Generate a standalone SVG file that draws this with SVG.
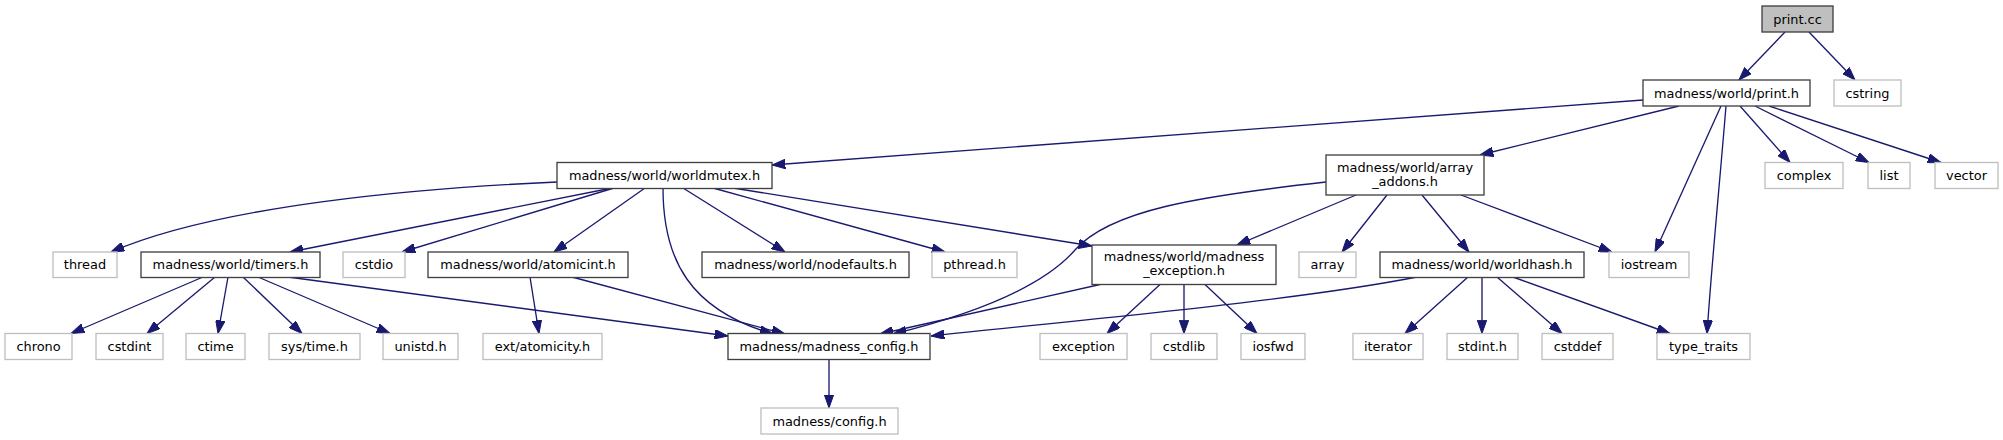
<svg xmlns="http://www.w3.org/2000/svg" width="2003" height="440" viewBox="0 0 2003 440">
<style>
.n rect{fill:#ffffff;stroke:#404040;stroke-width:1.33}
.x rect{fill:#ffffff;stroke:#bfbfbf;stroke-width:1.33}
.r rect{fill:#bfbfbf;stroke:#404040;stroke-width:1.33}
text{font-family:"DejaVu Sans",sans-serif;font-size:12.9px;fill:#000000;text-anchor:middle}
#edges path{fill:none;stroke:#191970;stroke-width:1.33;marker-end:url(#ah)}
</style>
<defs>
<marker id="ah" markerUnits="userSpaceOnUse" viewBox="0 0 13.3 9.4" refX="13.3" refY="4.7" markerWidth="13.3" markerHeight="9.4" orient="auto">
<path d="M0,0 L13.3,4.7 L0,9.4 z" fill="#191970" stroke="#191970" stroke-width="1"/>
</marker>
</defs>
<rect width="2003" height="440" fill="#ffffff"/>
<g id="edges">
<path d="M1785,32 L1739,80"/>
<path d="M1809,32 L1855,80"/>
<path d="M1643,100 L772,165"/>
<path d="M1679,106 L1480,155"/>
<path d="M1721,106 L1655,252"/>
<path d="M1726,106 C1720,180 1712,260 1707,333.5"/>
<path d="M1740,106 L1790,162.5"/>
<path d="M1755,106 L1869,162.5"/>
<path d="M1769,106 L1941,162.5"/>
<path d="M557,182 C420,188 220,205 111,252"/>
<path d="M612,188 L290,252"/>
<path d="M614,188 L402,252"/>
<path d="M645,188 L554,252"/>
<path d="M663,188 C663,260 690,310 773,334"/>
<path d="M683,188 L785,252"/>
<path d="M713,188 L945,252"/>
<path d="M733,188 L1092,246"/>
<path d="M1326,182 C1200,196 1110,210 1075,250 C1047,282 990,310 893,334"/>
<path d="M1356,195 L1237,245"/>
<path d="M1387,195 L1342,252"/>
<path d="M1422,195 L1469,252"/>
<path d="M1461,195 L1612,252"/>
<path d="M203,277 L71,333.5"/>
<path d="M215,277 L147,333.5"/>
<path d="M228,277 L218,333.5"/>
<path d="M243,277 L302,333.5"/>
<path d="M258,277 L390,333.5"/>
<path d="M288,277 L728,336"/>
<path d="M530,277 L539,333.5"/>
<path d="M572,277 L785,334"/>
<path d="M1100,284.5 L880,334"/>
<path d="M1160,284.5 L1107,333.5"/>
<path d="M1184,284.5 L1184,333.5"/>
<path d="M1205,284.5 L1257,333.5"/>
<path d="M1417,277 C1300,300 1100,318 931,336"/>
<path d="M1468,277 L1405,333.5"/>
<path d="M1482,277 L1482,333.5"/>
<path d="M1497,277 L1562,333.5"/>
<path d="M1513,277 L1670,333.5"/>
<path d="M829,359.5 L829,408"/>
</g>
<g id="print_cc" class="r"><rect x="1762" y="6" width="71" height="26"/><text x="1797.5" y="23.6">print.cc</text></g>
<g id="print_h" class="n"><rect x="1643" y="80" width="167" height="26"/><text x="1726.5" y="97.6">madness/world/print.h</text></g>
<g id="cstring" class="x"><rect x="1834" y="80" width="67" height="26"/><text x="1867.5" y="97.6">cstring</text></g>
<g id="worldmutex_h" class="n"><rect x="557" y="162.5" width="215" height="26"/><text x="664.5" y="180">madness/world/worldmutex.h</text></g>
<g id="array_addons_h" class="n"><rect x="1326" y="155" width="158" height="40"/><text x="1405" y="171.5">madness/world/array</text><text x="1405" y="185.5">_addons.h</text></g>
<g id="complex" class="x"><rect x="1765" y="162.5" width="78" height="26"/><text x="1804" y="180">complex</text></g>
<g id="list" class="x"><rect x="1868" y="162.5" width="42" height="26"/><text x="1889" y="180">list</text></g>
<g id="vector" class="x"><rect x="1935" y="162.5" width="63" height="26"/><text x="1966.5" y="180">vector</text></g>
<g id="thread" class="x"><rect x="53" y="252" width="64" height="25.5"/><text x="85" y="269.3">thread</text></g>
<g id="timers_h" class="n"><rect x="141" y="252" width="179" height="25.5"/><text x="230.5" y="269.3">madness/world/timers.h</text></g>
<g id="cstdio" class="x"><rect x="343" y="252" width="62" height="25.5"/><text x="374" y="269.3">cstdio</text></g>
<g id="atomicint_h" class="n"><rect x="428" y="252" width="200" height="25.5"/><text x="528" y="269.3">madness/world/atomicint.h</text></g>
<g id="nodefaults_h" class="n"><rect x="702" y="252" width="207" height="25.5"/><text x="805.5" y="269.3">madness/world/nodefaults.h</text></g>
<g id="pthread_h" class="x"><rect x="932" y="252" width="85" height="25.5"/><text x="974.5" y="269.3">pthread.h</text></g>
<g id="madness_exception_h" class="n"><rect x="1092" y="245" width="184" height="39.5"/><text x="1184" y="261">madness/world/madness</text><text x="1184" y="275">_exception.h</text></g>
<g id="array" class="x"><rect x="1299" y="252" width="57" height="25.5"/><text x="1327.5" y="269.3">array</text></g>
<g id="worldhash_h" class="n"><rect x="1380" y="252" width="204" height="25.5"/><text x="1482" y="269.3">madness/world/worldhash.h</text></g>
<g id="iostream" class="x"><rect x="1609" y="252" width="80" height="25.5"/><text x="1649" y="269.3">iostream</text></g>
<g id="chrono" class="x"><rect x="5" y="333.5" width="67" height="26"/><text x="38.5" y="351.1">chrono</text></g>
<g id="cstdint" class="x"><rect x="96" y="333.5" width="67" height="26"/><text x="129.5" y="351.1">cstdint</text></g>
<g id="ctime" class="x"><rect x="186" y="333.5" width="59" height="26"/><text x="215.5" y="351.1">ctime</text></g>
<g id="sys_time_h" class="x"><rect x="269" y="333.5" width="91" height="26"/><text x="314.5" y="351.1">sys/time.h</text></g>
<g id="unistd_h" class="x"><rect x="383" y="333.5" width="75" height="26"/><text x="420.5" y="351.1">unistd.h</text></g>
<g id="ext_atomicity_h" class="x"><rect x="483" y="333.5" width="119" height="26"/><text x="542.5" y="351.1">ext/atomicity.h</text></g>
<g id="madness_config_h" class="n"><rect x="728" y="333.5" width="202" height="26"/><text x="829" y="351.1">madness/madness_config.h</text></g>
<g id="exception" class="x"><rect x="1040" y="333.5" width="87" height="26"/><text x="1083.5" y="351.1">exception</text></g>
<g id="cstdlib" class="x"><rect x="1151" y="333.5" width="66" height="26"/><text x="1184" y="351.1">cstdlib</text></g>
<g id="iosfwd" class="x"><rect x="1241" y="333.5" width="64" height="26"/><text x="1273" y="351.1">iosfwd</text></g>
<g id="iterator" class="x"><rect x="1353" y="333.5" width="70" height="26"/><text x="1388" y="351.1">iterator</text></g>
<g id="stdint_h" class="x"><rect x="1447" y="333.5" width="71" height="26"/><text x="1482.5" y="351.1">stdint.h</text></g>
<g id="cstddef" class="x"><rect x="1542" y="333.5" width="71" height="26"/><text x="1577.5" y="351.1">cstddef</text></g>
<g id="type_traits" class="x"><rect x="1657" y="333.5" width="93" height="26"/><text x="1703.5" y="351.1">type_traits</text></g>
<g id="config_h" class="x"><rect x="761" y="408" width="137" height="26"/><text x="829.5" y="425.6">madness/config.h</text></g>
</svg>
